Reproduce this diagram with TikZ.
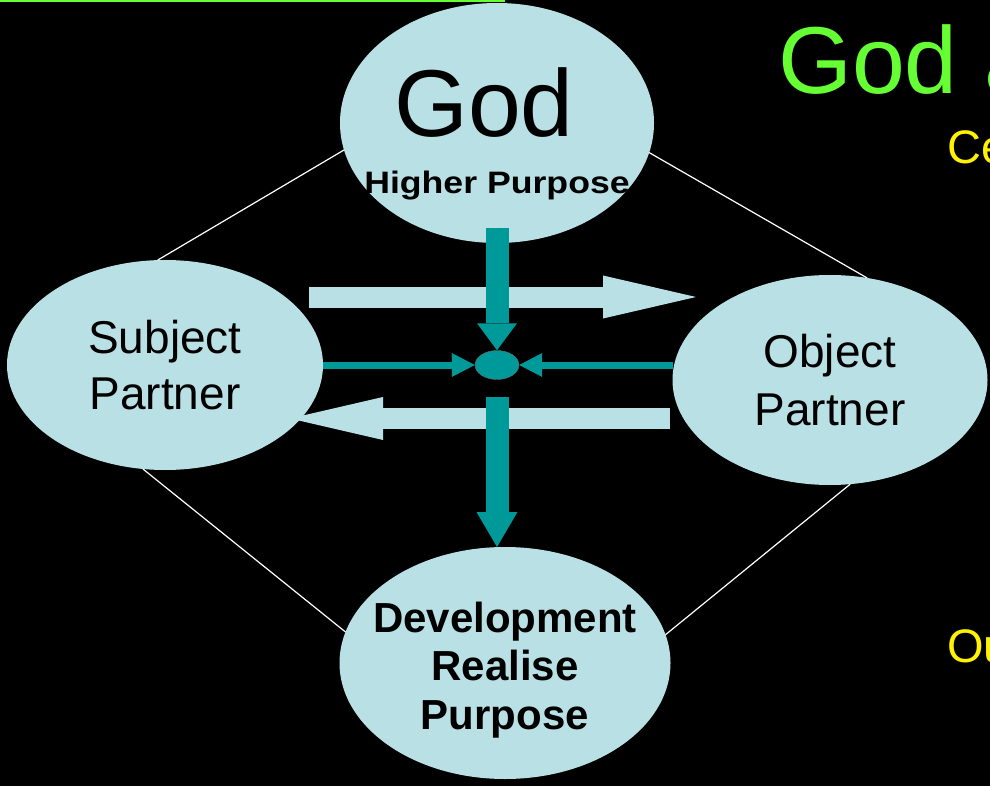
\documentclass[tikz,border=0pt]{standalone}
\usepackage{fontspec}
\setmainfont{Liberation Sans}
\usetikzlibrary{shapes.geometric,arrows.meta}
\definecolor{paleteal}{RGB}{185,224,228}
\definecolor{deepteal}{RGB}{0,153,153}
\definecolor{titlegreen}{RGB}{102,255,51}
\begin{document}
\begin{tikzpicture}[x=1pt,y=-1pt,
	bubble/.style={ellipse,fill=paleteal,inner sep=0pt,outer sep=0pt},
	link/.style={white,line width=1.2pt},
	flow/.style={paleteal,line width=21pt,-{Triangle[length=93pt,width=43pt,line width=0pt]}},
	feed/.style={deepteal,line width=23pt,-{Triangle[length=27pt,width=40pt,line width=0pt]}},
	pull/.style={deepteal,line width=7pt,-{Triangle[length=23pt,width=24pt,line width=0pt]}},
	lbl/.style={inner sep=0pt,text=black,align=center}]
				\fill[black] (0,0) rectangle (990,786);
				\useasboundingbox (0,0) rectangle (990,786);
				\draw[titlegreen,line width=2.5pt] (0,1) -- (505,1);
				
				\node[bubble,minimum width=314pt,minimum height=240pt] (god) at (497,123) {};
				\node[bubble,minimum width=316pt,minimum height=210pt] (subj) at (165,365) {};
				\node[bubble,minimum width=315pt,minimum height=210pt] (obj) at (830,380) {};
				\node[bubble,minimum width=331pt,minimum height=232pt] (dev) at (505,663) {};
				
				\draw[link] (god.190.8) -- (subj.94.3);
				\draw[link] (god.349.2) -- (obj.70);
				\draw[link] (subj.258) -- (dev.169.6);
				\draw[link] (obj.281.6) -- (dev.10);
				
				\coordinate (fwdtail) at (309,297);
				\coordinate (fwdhead) at (696,297);
				\coordinate (backtail) at (670,418.5);
				\coordinate (backhead) at (290,418.5);
				\draw[flow] (fwdtail) -- (fwdhead);
				\draw[flow] (backtail) -- (backhead);
				
				\node[ellipse,fill=deepteal,draw=black!60,line width=0.4pt,inner sep=0pt,minimum width=44pt,minimum height=29pt] (hub) at (497,365) {};
				\coordinate (godfoot) at (497,228);
				\coordinate (hubfoot) at (497,397);
				\draw[feed] (godfoot) -- (hub.north);
				\draw[pull] (subj.east) -- (hub.west);
				\draw[pull] (obj.west |- hub) -- (hub.east);
				\draw[feed,-{Triangle[length=35pt,width=41pt,line width=0pt]}] (hubfoot) -- (dev.north -| hub);
				
				\node[lbl,anchor=base,font=\fontsize{95}{114}\selectfont] (godname) at (484,137) {God};
				\node[lbl,anchor=base,font=\bfseries\fontsize{31}{37}\selectfont,xscale=1.15] (godaim) at (497,194) {Higher Purpose};
				\node[lbl,font=\fontsize{46}{56}\selectfont] (subjname) at (165,365.5) {Subject\\Partner};
				\node[lbl,font=\fontsize{46}{58}\selectfont] (objname) at (830,380.5) {Object\\Partner};
				\node[lbl,font=\bfseries\fontsize{42}{48.5}\selectfont] (devname) at (505,670) {Development\\Realise\\Purpose};
				
				\node[anchor=base west,inner sep=0pt,text=titlegreen,font=\fontsize{95}{114}\selectfont] (title) at (778,94) {God a};
				\node[anchor=base west,inner sep=0pt,text=yellow,font=\fontsize{47}{56}\selectfont] (cenote) at (947,164) {Ce};
				\node[anchor=base west,inner sep=0pt,text=yellow,font=\fontsize{47}{56}\selectfont] (ounote) at (947,662) {Ou};
				\end{tikzpicture}
\end{document}
